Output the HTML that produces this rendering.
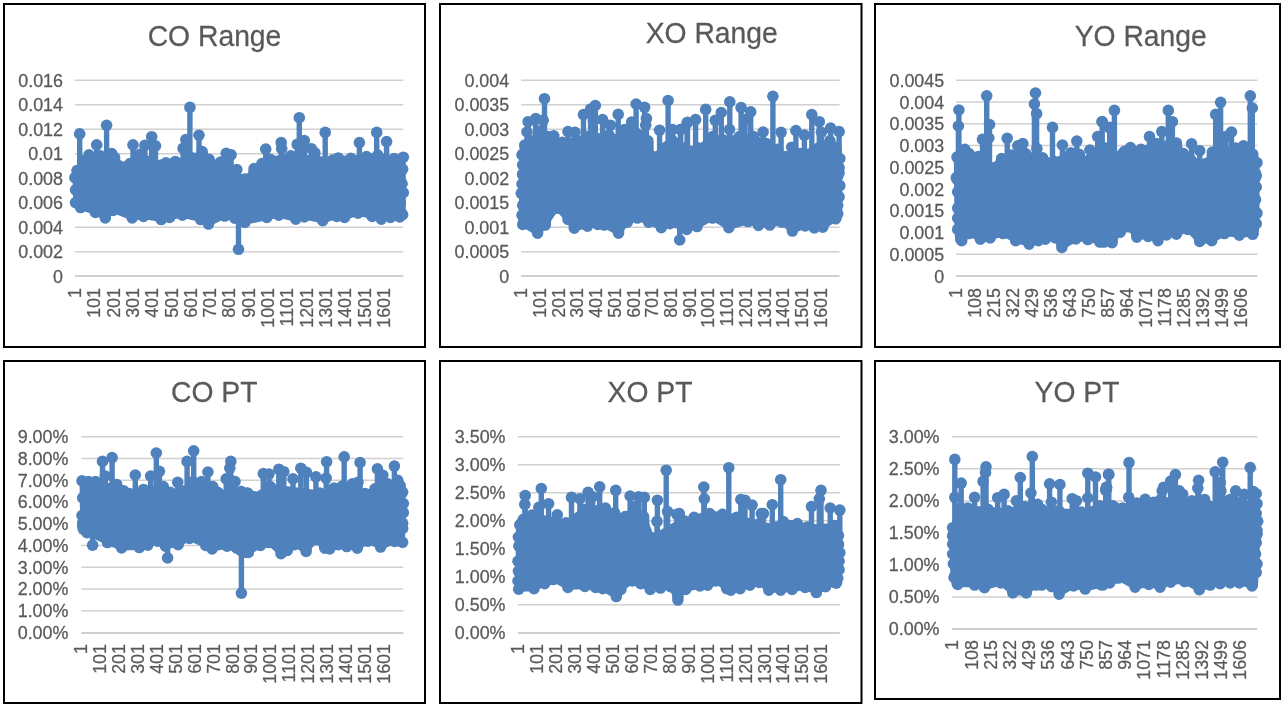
<!DOCTYPE html>
<html lang="en">
<head>
<meta charset="utf-8">
<title>Range and PT charts</title>
<style>
html,body{margin:0;padding:0;background:#fff;}
body{width:1284px;height:707px;overflow:hidden;position:relative;font-family:"Liberation Sans", sans-serif;}
.chart{position:absolute;margin:0;padding:0;overflow:hidden;background:#fff;}
.chart svg{display:block;width:100%;height:100%;}
text{font-family:"Liberation Sans", sans-serif;fill:#595959;stroke:#595959;stroke-width:0.25px;}
.t{font-size:28.3px;text-anchor:middle;}
.y{font-size:17.9px;text-anchor:end;}
.x{font-size:17.9px;text-anchor:end;}
.g{stroke:#d0d0d0;stroke-width:1.5;fill:none;}
.a{stroke:#d0d0d0;stroke-width:2;fill:none;}
.f{fill:#fff;stroke:#000;stroke-width:2;}
.d{fill:#4f81bd;stroke:#4f81bd;stroke-width:5;stroke-linejoin:round;stroke-linecap:round;}
.m{fill:#4f81bd;stroke:none;}
.s{fill:none;stroke:#4f81bd;stroke-width:5.4;stroke-linecap:round;}
.p{fill:none;stroke:#4f81bd;stroke-width:11.5;stroke-linecap:round;}
</style>
</head>
<body>
<main>
<figure class="chart" id="c1" style="left:3px;top:3px;width:423px;height:345px">
<svg viewBox="3 3 423 345" role="img" aria-label="CO Range">
<rect class="f" x="4" y="4" width="421" height="343"/>
<text class="t" transform="translate(214.5 46) scale(1 1.05)">CO Range</text>
<path class="a" d="M75 276.10H403.3"/><text class="y" transform="translate(63 282.7) scale(1 1.025)">0</text>
<path class="g" d="M75 251.63H403.3"/><text class="y" transform="translate(63 258.2) scale(1 1.025)">0.002</text>
<path class="g" d="M75 227.15H403.3"/><text class="y" transform="translate(63 233.8) scale(1 1.025)">0.004</text>
<path class="g" d="M75 202.68H403.3"/><text class="y" transform="translate(63 209.3) scale(1 1.025)">0.006</text>
<path class="g" d="M75 178.20H403.3"/><text class="y" transform="translate(63 184.8) scale(1 1.025)">0.008</text>
<path class="g" d="M75 153.73H403.3"/><text class="y" transform="translate(63 160.3) scale(1 1.025)">0.01</text>
<path class="g" d="M75 129.25H403.3"/><text class="y" transform="translate(63 135.8) scale(1 1.025)">0.012</text>
<path class="g" d="M75 104.78H403.3"/><text class="y" transform="translate(63 111.4) scale(1 1.025)">0.014</text>
<path class="g" d="M75 80.30H403.3"/><text class="y" transform="translate(63 86.9) scale(1 1.025)">0.016</text>
<text class="x" transform="translate(81 288) rotate(-90) scale(1 1.025)">1</text>
<text class="x" transform="translate(100 288) rotate(-90) scale(1 1.025)">101</text>
<text class="x" transform="translate(120 288) rotate(-90) scale(1 1.025)">201</text>
<text class="x" transform="translate(139 288) rotate(-90) scale(1 1.025)">301</text>
<text class="x" transform="translate(158 288) rotate(-90) scale(1 1.025)">401</text>
<text class="x" transform="translate(178 288) rotate(-90) scale(1 1.025)">501</text>
<text class="x" transform="translate(197 288) rotate(-90) scale(1 1.025)">601</text>
<text class="x" transform="translate(216 288) rotate(-90) scale(1 1.025)">701</text>
<text class="x" transform="translate(235 288) rotate(-90) scale(1 1.025)">801</text>
<text class="x" transform="translate(255 288) rotate(-90) scale(1 1.025)">901</text>
<text class="x" transform="translate(274 288) rotate(-90) scale(1 1.025)">1001</text>
<text class="x" transform="translate(293 288) rotate(-90) scale(1 1.025)">1101</text>
<text class="x" transform="translate(313 288) rotate(-90) scale(1 1.025)">1201</text>
<text class="x" transform="translate(332 288) rotate(-90) scale(1 1.025)">1301</text>
<text class="x" transform="translate(351 288) rotate(-90) scale(1 1.025)">1401</text>
<text class="x" transform="translate(371 288) rotate(-90) scale(1 1.025)">1501</text>
<text class="x" transform="translate(390 288) rotate(-90) scale(1 1.025)">1601</text>
<polygon class="d" points="74.9,170.6 77,170.6 82.7,160.7 89,154.8 100.3,155.8 111.7,153.6 114.5,153.6 118.7,165.6 124.4,167.1 130,163.5 139.9,154.3 161.2,164.9 166.1,162.8 175.3,161.4 193,157.9 202.2,151.5 209.2,159.3 213.5,164.9 220.5,162.1 244.6,179.1 246.3,179.1 254.1,168.5 261.9,163.5 270.3,159.3 290.9,155.8 332.6,160 338.2,157.9 350.9,158.2 366.5,156.5 377.8,155 394.1,158.6 401.8,157.2 402.6,157.2 403.3,157.2 403.3,217 402.6,217 401.8,217 400.4,217 399.7,217 390.5,217.5 381.3,219.3 372.2,216.5 358,213.2 344.6,217.5 336.8,216.5 322.7,220.7 304.3,217 295.8,219.3 278.8,215.3 266.8,217.5 244.9,222.4 234.7,218.2 224.8,216.1 208.5,224.1 200.7,219.6 182.4,215.3 169.6,217.5 161.2,219.6 143.5,216.5 132.2,217.9 113.1,210.4 105.3,217.9 95.4,212.5 80.6,207.6 75.6,202.6 75.6,202.6"/>
<path class="p" d="M82.7 160.7V190M89 154.8V190M100.3 155.8V190M111.7 153.6V190M114.5 157.2V190M118.7 165.6V190M124.4 167.1V190M130 163.5V190M139.9 154.3V190M161.2 164.9V190M166.1 162.8V190M175.3 161.4V190M193 157.9V190M202.2 151.5V190M209.2 159.3V190M213.5 164.9V190M220.5 162.1V190M244.6 179.1V190M246.3 179.1V190M254.1 168.5V190M261.9 163.5V190M270.3 159.3V190M290.9 155.8V190M332.6 160V190M338.2 157.9V190M350.9 158.2V190M366.5 156.5V190M377.8 155V190M394.1 158.6V190M80.6 207.6V190M95.4 212.5V190M105.3 217.9V190M113.1 210.4V190M132.2 217.9V190M143.5 216.5V190M161.2 219.6V190M169.6 217.5V190M182.4 215.3V190M200.7 219.6V190M208.5 224.1V190M224.8 216.1V190M234.7 218.2V190M244.9 222.4V190M266.8 217.5V190M278.8 215.3V190M295.8 219.3V190M304.3 217V190M322.7 220.7V190M336.8 216.5V190M344.6 217.5V190M358 213.2V190M372.2 216.5V190M381.3 219.3V190M390.5 217.5V190"/>
<circle class="m" cx="74.9" cy="177.7" r="5.8"/><circle class="m" cx="77" cy="170.6" r="5.8"/><circle class="m" cx="401.8" cy="183.3" r="5.8"/><circle class="m" cx="402.6" cy="169.2" r="5.8"/><circle class="m" cx="403.3" cy="157.2" r="5.8"/><circle class="m" cx="75.6" cy="189.9" r="5.8"/><circle class="m" cx="75.6" cy="202.6" r="5.8"/><circle class="m" cx="399.7" cy="217" r="5.8"/><circle class="m" cx="400.4" cy="202.6" r="5.8"/><circle class="m" cx="401.8" cy="184.2" r="5.8"/><circle class="m" cx="402.6" cy="214.6" r="5.8"/><circle class="m" cx="403.3" cy="192.7" r="5.8"/>
<path class="s" d="M79.7 133.8V190M96.7 144.9V190M106.6 125.3V190M133 144.9V190M144.9 145.4V190M151.7 136.7V190M155.5 145.9V190M183.1 148.4V190M185.9 139.5V190M189.9 107.4V190M199 135.2V190M226.2 153.3V190M231.1 154.8V190M236.8 169.5V190M238.5 249.3V190M265.7 149.1V190M281.2 142.6V190M281.7 148.7V190M297.2 144.4V190M299.3 117.7V190M304.3 140.6V190M311.4 148.7V190M314.9 152.9V190M325.2 132.4V190M359.4 142.6V190M376.7 132.4V190M386.6 141.6V190"/>
<circle class="m" cx="79.7" cy="133.8" r="5.8"/><circle class="m" cx="96.7" cy="144.9" r="5.8"/><circle class="m" cx="106.6" cy="125.3" r="5.8"/><circle class="m" cx="133" cy="144.9" r="5.8"/><circle class="m" cx="144.9" cy="145.4" r="5.8"/><circle class="m" cx="151.7" cy="136.7" r="5.8"/><circle class="m" cx="155.5" cy="145.9" r="5.8"/><circle class="m" cx="183.1" cy="148.4" r="5.8"/><circle class="m" cx="185.9" cy="139.5" r="5.8"/><circle class="m" cx="189.9" cy="107.4" r="5.8"/><circle class="m" cx="199" cy="135.2" r="5.8"/><circle class="m" cx="226.2" cy="153.3" r="5.8"/><circle class="m" cx="231.1" cy="154.8" r="5.8"/><circle class="m" cx="236.8" cy="169.5" r="5.8"/><circle class="m" cx="238.5" cy="249.3" r="5.8"/><circle class="m" cx="265.7" cy="149.1" r="5.8"/><circle class="m" cx="281.2" cy="142.6" r="5.8"/><circle class="m" cx="281.7" cy="148.7" r="5.8"/><circle class="m" cx="297.2" cy="144.4" r="5.8"/><circle class="m" cx="299.3" cy="117.7" r="5.8"/><circle class="m" cx="304.3" cy="140.6" r="5.8"/><circle class="m" cx="311.4" cy="148.7" r="5.8"/><circle class="m" cx="314.9" cy="152.9" r="5.8"/><circle class="m" cx="325.2" cy="132.4" r="5.8"/><circle class="m" cx="359.4" cy="142.6" r="5.8"/><circle class="m" cx="376.7" cy="132.4" r="5.8"/><circle class="m" cx="386.6" cy="141.6" r="5.8"/>
</svg>
</figure>
<figure class="chart" id="c2" style="left:439px;top:3px;width:424px;height:345px">
<svg viewBox="439 3 424 345" role="img" aria-label="XO Range">
<rect class="f" x="440" y="4" width="421.5" height="343"/>
<text class="t" transform="translate(711.7 43) scale(1 1.05)">XO Range</text>
<path class="a" d="M521.2 276.10H839.6"/><text class="y" transform="translate(509.2 282.7) scale(1 1.025)">0</text>
<path class="g" d="M521.2 251.63H839.6"/><text class="y" transform="translate(509.2 258.2) scale(1 1.025)">0.0005</text>
<path class="g" d="M521.2 227.15H839.6"/><text class="y" transform="translate(509.2 233.8) scale(1 1.025)">0.001</text>
<path class="g" d="M521.2 202.68H839.6"/><text class="y" transform="translate(509.2 209.3) scale(1 1.025)">0.0015</text>
<path class="g" d="M521.2 178.20H839.6"/><text class="y" transform="translate(509.2 184.8) scale(1 1.025)">0.002</text>
<path class="g" d="M521.2 153.73H839.6"/><text class="y" transform="translate(509.2 160.3) scale(1 1.025)">0.0025</text>
<path class="g" d="M521.2 129.25H839.6"/><text class="y" transform="translate(509.2 135.8) scale(1 1.025)">0.003</text>
<path class="g" d="M521.2 104.78H839.6"/><text class="y" transform="translate(509.2 111.4) scale(1 1.025)">0.0035</text>
<path class="g" d="M521.2 80.30H839.6"/><text class="y" transform="translate(509.2 86.9) scale(1 1.025)">0.004</text>
<text class="x" transform="translate(527 288) rotate(-90) scale(1 1.025)">1</text>
<text class="x" transform="translate(546 288) rotate(-90) scale(1 1.025)">101</text>
<text class="x" transform="translate(565 288) rotate(-90) scale(1 1.025)">201</text>
<text class="x" transform="translate(583 288) rotate(-90) scale(1 1.025)">301</text>
<text class="x" transform="translate(602 288) rotate(-90) scale(1 1.025)">401</text>
<text class="x" transform="translate(621 288) rotate(-90) scale(1 1.025)">501</text>
<text class="x" transform="translate(640 288) rotate(-90) scale(1 1.025)">601</text>
<text class="x" transform="translate(658 288) rotate(-90) scale(1 1.025)">701</text>
<text class="x" transform="translate(677 288) rotate(-90) scale(1 1.025)">801</text>
<text class="x" transform="translate(696 288) rotate(-90) scale(1 1.025)">901</text>
<text class="x" transform="translate(714 288) rotate(-90) scale(1 1.025)">1001</text>
<text class="x" transform="translate(733 288) rotate(-90) scale(1 1.025)">1101</text>
<text class="x" transform="translate(752 288) rotate(-90) scale(1 1.025)">1201</text>
<text class="x" transform="translate(771 288) rotate(-90) scale(1 1.025)">1301</text>
<text class="x" transform="translate(789 288) rotate(-90) scale(1 1.025)">1401</text>
<text class="x" transform="translate(808 288) rotate(-90) scale(1 1.025)">1501</text>
<text class="x" transform="translate(827 288) rotate(-90) scale(1 1.025)">1601</text>
<polygon class="d" points="522,145 522.7,145 522.7,145 524.8,145 540.4,130.9 548.2,136.6 562.3,142.2 586.4,136.6 609,135.1 617.5,139.4 624.5,129.5 637.3,133.7 647.9,140.8 652.8,156.4 667,146.5 672.6,140.8 683.9,147.9 698.4,147.9 712.5,136.6 722.4,139.4 739.4,136.6 753.5,136.6 766.3,143.6 777.6,149.3 786,156.4 800.2,153.5 818.6,147.9 829.9,140.8 835.5,147.9 837.7,147.9 839.1,147.9 839.8,158.5 839.8,213.8 839.1,218.8 839.1,218.8 837.7,218.8 837.7,218.8 835.5,218.8 822.8,227.3 814.3,228 805.1,225.9 792.4,231.1 781.8,222.3 769.8,225.1 758.5,225.4 747.9,221.6 728.8,227.7 712.5,218.1 697,226.6 686.7,229.4 686.4,229.4 669.8,223.7 661.3,227.7 648.6,222.3 637.3,218.1 627.4,222.3 618.5,233.2 604,225.1 597.7,224.4 587.5,226.3 574.3,228.3 568,219.5 556.7,208.2 545.3,225.1 537.6,233.3 522.7,224.4 522.7,224.4 522.7,224.4 522,224.4 522,224.4 521.3,224.4"/>
<path class="p" d="M540.4 130.9V180M548.2 136.6V180M562.3 142.2V180M586.4 136.6V180M609 135.1V180M617.5 139.4V180M624.5 129.5V180M637.3 133.7V180M647.9 140.8V180M652.8 156.4V180M667 146.5V180M672.6 140.8V180M683.9 147.9V180M698.4 147.9V180M712.5 136.6V180M722.4 139.4V180M739.4 136.6V180M753.5 136.6V180M766.3 143.6V180M777.6 149.3V180M786 156.4V180M800.2 153.5V180M818.6 147.9V180M829.9 140.8V180M537.6 233.3V180M545.3 225.1V180M556.7 208.2V180M568 219.5V180M574.3 228.3V180M587.5 226.3V180M597.7 224.4V180M604 225.1V180M618.5 233.2V180M627.4 222.3V180M637.3 218.1V180M648.6 222.3V180M661.3 227.7V180M669.8 223.7V180M686.4 228.7V180M686.7 229.4V180M697 226.6V180M712.5 218.1V180M728.8 227.7V180M747.9 221.6V180M758.5 225.4V180M769.8 225.1V180M781.8 222.3V180M792.4 231.1V180M805.1 225.9V180M814.3 228V180M822.8 227.3V180"/>
<circle class="m" cx="522" cy="154.9" r="5.8"/><circle class="m" cx="522.7" cy="164.8" r="5.8"/><circle class="m" cx="522.7" cy="174.7" r="5.8"/><circle class="m" cx="524.8" cy="145" r="5.8"/><circle class="m" cx="835.5" cy="147.9" r="5.8"/><circle class="m" cx="837.7" cy="176.2" r="5.8"/><circle class="m" cx="839.1" cy="167.7" r="5.8"/><circle class="m" cx="839.8" cy="158.5" r="5.8"/><circle class="m" cx="521.3" cy="193.3" r="5.8"/><circle class="m" cx="522" cy="184.1" r="5.8"/><circle class="m" cx="522" cy="215.2" r="5.8"/><circle class="m" cx="522.7" cy="174.2" r="5.8"/><circle class="m" cx="522.7" cy="205.3" r="5.8"/><circle class="m" cx="522.7" cy="224.4" r="5.8"/><circle class="m" cx="835.5" cy="218.8" r="5.8"/><circle class="m" cx="837.7" cy="205.3" r="5.8"/><circle class="m" cx="837.7" cy="213.8" r="5.8"/><circle class="m" cx="839.1" cy="172.8" r="5.8"/><circle class="m" cx="839.1" cy="196.9" r="5.8"/><circle class="m" cx="839.8" cy="185.6" r="5.8"/>
<path class="s" d="M527 132V180M528.1 121.7V180M535.7 118.5V180M543.2 120.3V180M544.5 98.7V180M553.8 135.9V180M568 131.6V180M575 132.3V180M583.5 114.6V180M590.6 109V180M593.4 121V180M595.3 105.5V180M602.6 119.6V180M610.4 125.2V180M618.2 114.4V180M631.6 122.1V180M636.1 104V180M644.6 107.3V180M645.7 125.2V180M646.4 118.5V180M659.6 130.2V180M668.1 100.5V180M672.6 129.5V180M679.7 240V180M680.4 129.5V180M680.7 129.5V180M687.1 122.8V180M687.5 122.4V180M695.6 119.6V180M705.7 109.4V180M715.3 120.3V180M721.3 112.5V180M729.5 129.5V180M729.8 101.9V180M741.1 107.6V180M745 119.6V180M750.7 111.8V180M763.1 132V180M772.9 96.3V180M781.1 132.3V180M791.7 147.2V180M795.9 130.6V180M804.4 135.1V180M811.8 114.6V180M819.3 121.7V180M821.4 132.3V180M830.6 128.1V180M839.1 131.6V180"/>
<circle class="m" cx="527" cy="132" r="5.8"/><circle class="m" cx="528.1" cy="121.7" r="5.8"/><circle class="m" cx="535.7" cy="118.5" r="5.8"/><circle class="m" cx="543.2" cy="120.3" r="5.8"/><circle class="m" cx="544.5" cy="98.7" r="5.8"/><circle class="m" cx="553.8" cy="135.9" r="5.8"/><circle class="m" cx="568" cy="131.6" r="5.8"/><circle class="m" cx="575" cy="132.3" r="5.8"/><circle class="m" cx="583.5" cy="114.6" r="5.8"/><circle class="m" cx="590.6" cy="109" r="5.8"/><circle class="m" cx="593.4" cy="121" r="5.8"/><circle class="m" cx="595.3" cy="105.5" r="5.8"/><circle class="m" cx="602.6" cy="119.6" r="5.8"/><circle class="m" cx="610.4" cy="125.2" r="5.8"/><circle class="m" cx="618.2" cy="114.4" r="5.8"/><circle class="m" cx="631.6" cy="122.1" r="5.8"/><circle class="m" cx="636.1" cy="104" r="5.8"/><circle class="m" cx="644.6" cy="107.3" r="5.8"/><circle class="m" cx="645.7" cy="125.2" r="5.8"/><circle class="m" cx="646.4" cy="118.5" r="5.8"/><circle class="m" cx="659.6" cy="130.2" r="5.8"/><circle class="m" cx="668.1" cy="100.5" r="5.8"/><circle class="m" cx="672.6" cy="129.5" r="5.8"/><circle class="m" cx="679.7" cy="240" r="5.8"/><circle class="m" cx="680.4" cy="129.5" r="5.8"/><circle class="m" cx="680.7" cy="129.5" r="5.8"/><circle class="m" cx="687.1" cy="122.8" r="5.8"/><circle class="m" cx="687.5" cy="122.4" r="5.8"/><circle class="m" cx="695.6" cy="119.6" r="5.8"/><circle class="m" cx="705.7" cy="109.4" r="5.8"/><circle class="m" cx="715.3" cy="120.3" r="5.8"/><circle class="m" cx="721.3" cy="112.5" r="5.8"/><circle class="m" cx="729.5" cy="129.5" r="5.8"/><circle class="m" cx="729.8" cy="101.9" r="5.8"/><circle class="m" cx="741.1" cy="107.6" r="5.8"/><circle class="m" cx="745" cy="119.6" r="5.8"/><circle class="m" cx="750.7" cy="111.8" r="5.8"/><circle class="m" cx="763.1" cy="132" r="5.8"/><circle class="m" cx="772.9" cy="96.3" r="5.8"/><circle class="m" cx="781.1" cy="132.3" r="5.8"/><circle class="m" cx="791.7" cy="147.2" r="5.8"/><circle class="m" cx="795.9" cy="130.6" r="5.8"/><circle class="m" cx="804.4" cy="135.1" r="5.8"/><circle class="m" cx="811.8" cy="114.6" r="5.8"/><circle class="m" cx="819.3" cy="121.7" r="5.8"/><circle class="m" cx="821.4" cy="132.3" r="5.8"/><circle class="m" cx="830.6" cy="128.1" r="5.8"/><circle class="m" cx="839.1" cy="131.6" r="5.8"/>
</svg>
</figure>
<figure class="chart" id="c3" style="left:874px;top:3px;width:407px;height:345px">
<svg viewBox="874 3 407 345" role="img" aria-label="YO Range">
<rect class="f" x="875" y="4" width="405" height="343"/>
<text class="t" transform="translate(1140.7 46) scale(1 1.05)">YO Range</text>
<path class="a" d="M956 276.10H1257.4"/><text class="y" transform="translate(944.2 282.7) scale(1 1.025)">0</text>
<path class="g" d="M956 254.34H1257.4"/><text class="y" transform="translate(944.2 260.9) scale(1 1.025)">0.0005</text>
<path class="g" d="M956 232.59H1257.4"/><text class="y" transform="translate(944.2 239.2) scale(1 1.025)">0.001</text>
<path class="g" d="M956 210.83H1257.4"/><text class="y" transform="translate(944.2 217.4) scale(1 1.025)">0.0015</text>
<path class="g" d="M956 189.08H1257.4"/><text class="y" transform="translate(944.2 195.7) scale(1 1.025)">0.002</text>
<path class="g" d="M956 167.32H1257.4"/><text class="y" transform="translate(944.2 173.9) scale(1 1.025)">0.0025</text>
<path class="g" d="M956 145.57H1257.4"/><text class="y" transform="translate(944.2 152.2) scale(1 1.025)">0.003</text>
<path class="g" d="M956 123.81H1257.4"/><text class="y" transform="translate(944.2 130.4) scale(1 1.025)">0.0035</text>
<path class="g" d="M956 102.06H1257.4"/><text class="y" transform="translate(944.2 108.7) scale(1 1.025)">0.004</text>
<path class="g" d="M956 80.30H1257.4"/><text class="y" transform="translate(944.2 86.9) scale(1 1.025)">0.0045</text>
<text class="x" transform="translate(962 288) rotate(-90) scale(1 1.025)">1</text>
<text class="x" transform="translate(981 288) rotate(-90) scale(1 1.025)">108</text>
<text class="x" transform="translate(1000 288) rotate(-90) scale(1 1.025)">215</text>
<text class="x" transform="translate(1019 288) rotate(-90) scale(1 1.025)">322</text>
<text class="x" transform="translate(1038 288) rotate(-90) scale(1 1.025)">429</text>
<text class="x" transform="translate(1057 288) rotate(-90) scale(1 1.025)">536</text>
<text class="x" transform="translate(1076 288) rotate(-90) scale(1 1.025)">643</text>
<text class="x" transform="translate(1095 288) rotate(-90) scale(1 1.025)">750</text>
<text class="x" transform="translate(1114 288) rotate(-90) scale(1 1.025)">857</text>
<text class="x" transform="translate(1133 288) rotate(-90) scale(1 1.025)">964</text>
<text class="x" transform="translate(1152 288) rotate(-90) scale(1 1.025)">1071</text>
<text class="x" transform="translate(1171 288) rotate(-90) scale(1 1.025)">1178</text>
<text class="x" transform="translate(1190 288) rotate(-90) scale(1 1.025)">1285</text>
<text class="x" transform="translate(1209 288) rotate(-90) scale(1 1.025)">1392</text>
<text class="x" transform="translate(1228 288) rotate(-90) scale(1 1.025)">1499</text>
<text class="x" transform="translate(1247 288) rotate(-90) scale(1 1.025)">1606</text>
<polygon class="d" points="956.3,157.1 957,157.1 964.8,149.3 969,153.5 978.2,156.4 991.7,167.7 1001.6,158.5 1011.5,154.9 1025.6,153.5 1042.6,157.8 1053.9,161.3 1070.8,152.8 1079.3,154.2 1084.3,167.7 1089.2,159.9 1104.8,147.9 1105.7,147.9 1118.4,159.2 1118.9,153.5 1122.6,153.5 1141,149.3 1156.6,143.6 1176.4,142.9 1183.4,153.5 1190.5,159.2 1206,163.4 1212.4,152.1 1235.7,147.9 1252.7,154.2 1254.8,154.2 1255.5,154.2 1257,162.7 1257,223.7 1256.2,234.3 1256.2,234.3 1256.2,234.3 1255.5,234.3 1252.7,234.3 1239.3,235.3 1224.4,233.6 1211.7,240.7 1199.7,241.4 1187.7,229.4 1176.4,234.3 1166.5,235 1158,240.7 1148.1,236.5 1136.8,237.2 1128.3,226.6 1120.3,232.2 1119.8,232.2 1112.1,242.8 1112,242.8 1104.2,242.1 1099.8,242.1 1087.8,239.6 1075.8,239 1061.9,247.5 1055.3,237.9 1045.4,239.3 1038.3,240.7 1029.1,244.2 1015.7,240.7 1003,233.6 990.2,237.9 980.3,239.3 969,233.6 961.7,240.7 957.7,240.7 957.7,240.7 957.7,240.7 957.7,240.7 957,229.4"/>
<path class="p" d="M964.8 149.3V190M969 153.5V190M978.2 156.4V190M991.7 167.7V190M1001.6 158.5V190M1011.5 154.9V190M1025.6 153.5V190M1042.6 157.8V190M1053.9 161.3V190M1070.8 152.8V190M1079.3 154.2V190M1084.3 167.7V190M1089.2 159.9V190M1104.8 147.9V190M1105.7 147.9V190M1118.4 160.6V190M1118.9 159.2V190M1122.6 153.5V190M1141 149.3V190M1156.6 143.6V190M1176.4 142.9V190M1183.4 153.5V190M1190.5 159.2V190M1206 163.4V190M1212.4 152.1V190M1235.7 147.9V190M961.7 240.7V190M969 233.6V190M980.3 239.3V190M990.2 237.9V190M1003 233.6V190M1015.7 240.7V190M1029.1 244.2V190M1038.3 240.7V190M1045.4 239.3V190M1055.3 237.9V190M1061.9 247.5V190M1075.8 239V190M1087.8 239.6V190M1099.8 242.1V190M1104.2 242.1V190M1112 242.8V190M1112.1 242.8V190M1119.8 232.2V190M1120.3 232.2V190M1128.3 226.6V190M1136.8 237.2V190M1148.1 236.5V190M1158 240.7V190M1166.5 235V190M1176.4 234.3V190M1187.7 229.4V190M1199.7 241.4V190M1211.7 240.7V190M1224.4 233.6V190M1239.3 235.3V190"/>
<circle class="m" cx="956.3" cy="177.6" r="5.8"/><circle class="m" cx="957" cy="157.1" r="5.8"/><circle class="m" cx="1252.7" cy="154.2" r="5.8"/><circle class="m" cx="1254.8" cy="179" r="5.8"/><circle class="m" cx="1255.5" cy="173.3" r="5.8"/><circle class="m" cx="1257" cy="162.7" r="5.8"/><circle class="m" cx="957" cy="179.2" r="5.8"/><circle class="m" cx="957.7" cy="191.9" r="5.8"/><circle class="m" cx="957.7" cy="208.2" r="5.8"/><circle class="m" cx="957.7" cy="218.1" r="5.8"/><circle class="m" cx="957.7" cy="229.4" r="5.8"/><circle class="m" cx="1252.7" cy="234.3" r="5.8"/><circle class="m" cx="1255.5" cy="199.7" r="5.8"/><circle class="m" cx="1256.2" cy="175.7" r="5.8"/><circle class="m" cx="1256.2" cy="187" r="5.8"/><circle class="m" cx="1256.2" cy="223.7" r="5.8"/><circle class="m" cx="1257" cy="213.1" r="5.8"/>
<path class="s" d="M958.4 126V190M958.9 110V190M982.5 139.4V190M986.7 95.8V190M988.8 138V190M989.5 124.5V190M1007.2 138.3V190M1017.8 145.8V190M1022.8 143.6V190M1034.4 104V190M1035.5 93V190M1036.6 113.7V190M1036.9 148.6V190M1052.5 127.4V190M1062.4 145V190M1076.8 141.1V190M1089.9 150V190M1097.7 136.6V190M1102.1 121.7V190M1102.2 121.7V190M1109.7 127.4V190M1109.9 128.1V190M1114.4 110.4V190M1124.6 151.4V190M1130.4 147.6V190M1149.5 136.6V190M1161.8 131.6V190M1168.3 110.4V190M1172.4 121.7V190M1191.6 143.9V190M1199.7 150.7V190M1215.7 114.4V190M1220.6 102.3V190M1225.8 136.6V190M1231.5 132V190M1243.5 145.8V190M1250.3 95.8V190M1252.3 108V190"/>
<circle class="m" cx="958.4" cy="126" r="5.8"/><circle class="m" cx="958.9" cy="110" r="5.8"/><circle class="m" cx="982.5" cy="139.4" r="5.8"/><circle class="m" cx="986.7" cy="95.8" r="5.8"/><circle class="m" cx="988.8" cy="138" r="5.8"/><circle class="m" cx="989.5" cy="124.5" r="5.8"/><circle class="m" cx="1007.2" cy="138.3" r="5.8"/><circle class="m" cx="1017.8" cy="145.8" r="5.8"/><circle class="m" cx="1022.8" cy="143.6" r="5.8"/><circle class="m" cx="1034.4" cy="104" r="5.8"/><circle class="m" cx="1035.5" cy="93" r="5.8"/><circle class="m" cx="1036.6" cy="113.7" r="5.8"/><circle class="m" cx="1036.9" cy="148.6" r="5.8"/><circle class="m" cx="1052.5" cy="127.4" r="5.8"/><circle class="m" cx="1062.4" cy="145" r="5.8"/><circle class="m" cx="1076.8" cy="141.1" r="5.8"/><circle class="m" cx="1089.9" cy="150" r="5.8"/><circle class="m" cx="1097.7" cy="136.6" r="5.8"/><circle class="m" cx="1102.1" cy="121.7" r="5.8"/><circle class="m" cx="1102.2" cy="121.7" r="5.8"/><circle class="m" cx="1109.7" cy="127.4" r="5.8"/><circle class="m" cx="1109.9" cy="128.1" r="5.8"/><circle class="m" cx="1114.4" cy="110.4" r="5.8"/><circle class="m" cx="1124.6" cy="151.4" r="5.8"/><circle class="m" cx="1130.4" cy="147.6" r="5.8"/><circle class="m" cx="1149.5" cy="136.6" r="5.8"/><circle class="m" cx="1161.8" cy="131.6" r="5.8"/><circle class="m" cx="1168.3" cy="110.4" r="5.8"/><circle class="m" cx="1172.4" cy="121.7" r="5.8"/><circle class="m" cx="1191.6" cy="143.9" r="5.8"/><circle class="m" cx="1199.7" cy="150.7" r="5.8"/><circle class="m" cx="1215.7" cy="114.4" r="5.8"/><circle class="m" cx="1220.6" cy="102.3" r="5.8"/><circle class="m" cx="1225.8" cy="136.6" r="5.8"/><circle class="m" cx="1231.5" cy="132" r="5.8"/><circle class="m" cx="1243.5" cy="145.8" r="5.8"/><circle class="m" cx="1250.3" cy="95.8" r="5.8"/><circle class="m" cx="1252.3" cy="108" r="5.8"/>
</svg>
</figure>
<figure class="chart" id="c4" style="left:3px;top:360px;width:423px;height:344px">
<svg viewBox="3 360 423 344" role="img" aria-label="CO PT">
<rect class="f" x="4" y="361" width="421" height="342"/>
<text class="t" transform="translate(214.2 401.7) scale(1 1.05)">CO PT</text>
<path class="a" d="M81.3 632.90H403.3"/><text class="y" transform="translate(68.4 638.8) scale(1 1.025)">0.00%</text>
<path class="g" d="M81.3 610.84H403.3"/><text class="y" transform="translate(68.4 617.0) scale(1 1.025)">1.00%</text>
<path class="g" d="M81.3 589.09H403.3"/><text class="y" transform="translate(68.4 595.3) scale(1 1.025)">2.00%</text>
<path class="g" d="M81.3 567.33H403.3"/><text class="y" transform="translate(68.4 573.5) scale(1 1.025)">3.00%</text>
<path class="g" d="M81.3 545.58H403.3"/><text class="y" transform="translate(68.4 551.8) scale(1 1.025)">4.00%</text>
<path class="g" d="M81.3 523.82H403.3"/><text class="y" transform="translate(68.4 530.0) scale(1 1.025)">5.00%</text>
<path class="g" d="M81.3 502.07H403.3"/><text class="y" transform="translate(68.4 508.3) scale(1 1.025)">6.00%</text>
<path class="g" d="M81.3 480.31H403.3"/><text class="y" transform="translate(68.4 486.5) scale(1 1.025)">7.00%</text>
<path class="g" d="M81.3 458.56H403.3"/><text class="y" transform="translate(68.4 464.8) scale(1 1.025)">8.00%</text>
<path class="g" d="M81.3 436.80H403.3"/><text class="y" transform="translate(68.4 443.0) scale(1 1.025)">9.00%</text>
<text class="x" transform="translate(87 644) rotate(-90) scale(1 1.025)">1</text>
<text class="x" transform="translate(106 644) rotate(-90) scale(1 1.025)">101</text>
<text class="x" transform="translate(125 644) rotate(-90) scale(1 1.025)">201</text>
<text class="x" transform="translate(144 644) rotate(-90) scale(1 1.025)">301</text>
<text class="x" transform="translate(163 644) rotate(-90) scale(1 1.025)">401</text>
<text class="x" transform="translate(182 644) rotate(-90) scale(1 1.025)">501</text>
<text class="x" transform="translate(201 644) rotate(-90) scale(1 1.025)">601</text>
<text class="x" transform="translate(220 644) rotate(-90) scale(1 1.025)">701</text>
<text class="x" transform="translate(239 644) rotate(-90) scale(1 1.025)">801</text>
<text class="x" transform="translate(257 644) rotate(-90) scale(1 1.025)">901</text>
<text class="x" transform="translate(276 644) rotate(-90) scale(1 1.025)">1001</text>
<text class="x" transform="translate(295 644) rotate(-90) scale(1 1.025)">1101</text>
<text class="x" transform="translate(314 644) rotate(-90) scale(1 1.025)">1201</text>
<text class="x" transform="translate(333 644) rotate(-90) scale(1 1.025)">1301</text>
<text class="x" transform="translate(352 644) rotate(-90) scale(1 1.025)">1401</text>
<text class="x" transform="translate(371 644) rotate(-90) scale(1 1.025)">1501</text>
<text class="x" transform="translate(390 644) rotate(-90) scale(1 1.025)">1601</text>
<polygon class="d" points="82,480.9 82,480.9 82.7,480.9 82.7,480.9 88.4,481.6 95.5,481.6 100.4,486.6 116.7,484.4 123.7,490.8 129.4,493.6 143.5,489.4 163.3,486.6 170.4,492.2 184.5,490.8 193,481.6 201.5,481.6 212.8,486.6 217.8,492.2 241.1,491.5 241.4,491.5 247,492.9 247.5,492.9 250.6,492.9 261.9,495 270.3,486.6 319.8,492.9 334,488 342.5,485.9 352.4,483.7 365.1,493.6 375,488.7 387.7,483.7 399.7,485.1 402.6,485.1 402.6,485.1 403.3,485.1 403.3,485.1 402.6,542.3 402.6,542.3 401.8,542.3 397.6,541.5 394.8,541.5 380.6,547.1 367.9,541.2 357.3,548.3 346.7,546.6 338.2,544.7 329.7,549 324.8,548.3 315.6,539.8 306.1,551.4 294.4,544.7 287.3,550.4 281,553.7 268.9,542.6 260.5,545.5 248.4,552.5 246,552.5 240.7,550.4 236.8,550.4 227,546.2 212.1,549 205.7,545.5 189.5,538.4 178.2,544.7 165.4,546.2 157.7,541.2 147.8,545.2 139.3,547.6 121.6,548 107.5,542.6 87,532.7 83.4,532.7 82.7,529.2"/>
<path class="p" d="M88.4 481.6V520M95.5 481.6V520M100.4 486.6V520M116.7 484.4V520M123.7 490.8V520M129.4 493.6V520M143.5 489.4V520M163.3 486.6V520M170.4 492.2V520M184.5 490.8V520M193 481.6V520M201.5 481.6V520M212.8 486.6V520M217.8 492.2V520M241.1 491.5V520M241.4 491.5V520M247 492.9V520M247.5 492.9V520M250.6 497.2V520M261.9 495V520M270.3 486.6V520M319.8 492.9V520M334 488V520M342.5 485.9V520M352.4 483.7V520M365.1 493.6V520M375 488.7V520M387.7 483.7V520M107.5 542.6V520M121.6 548V520M139.3 547.6V520M147.8 545.2V520M157.7 541.2V520M165.4 546.2V520M178.2 544.7V520M189.5 538.4V520M205.7 545.5V520M212.1 549V520M227 546.2V520M236.8 548.3V520M240.7 550.4V520M246 552.5V520M248.4 552.5V520M260.5 545.5V520M268.9 542.6V520M281 553.7V520M287.3 550.4V520M294.4 544.7V520M306.1 551.4V520M315.6 539.8V520M324.8 548.3V520M329.7 549V520M338.2 544.7V520M346.7 546.6V520M357.3 548.3V520M367.9 541.2V520M380.6 547.1V520M394.8 541.5V520M397.6 534.1V520"/>
<circle class="m" cx="82" cy="480.9" r="5.8"/><circle class="m" cx="82" cy="515.5" r="5.8"/><circle class="m" cx="82.7" cy="497.9" r="5.8"/><circle class="m" cx="82.7" cy="526.2" r="5.8"/><circle class="m" cx="399.7" cy="485.1" r="5.8"/><circle class="m" cx="402.6" cy="492.2" r="5.8"/><circle class="m" cx="402.6" cy="523.3" r="5.8"/><circle class="m" cx="403.3" cy="503.5" r="5.8"/><circle class="m" cx="403.3" cy="512.7" r="5.8"/><circle class="m" cx="82.7" cy="522.8" r="5.8"/><circle class="m" cx="83.4" cy="529.2" r="5.8"/><circle class="m" cx="87" cy="532.7" r="5.8"/><circle class="m" cx="401.8" cy="522.8" r="5.8"/><circle class="m" cx="402.6" cy="528.5" r="5.8"/><circle class="m" cx="402.6" cy="542.3" r="5.8"/>
<path class="s" d="M92.6 545.2V520M102.5 461.4V520M105.3 476V520M112.1 457.6V520M135.3 475V520M150.6 476V520M156.3 453V520M159.4 471.3V520M167.6 557.9V520M177.7 482.3V520M187.1 461.4V520M193.7 450.8V520M207.9 472V520M226.2 478.8V520M229.8 468.2V520M230.8 461.4V520M234 481.6V520M235 481.6V520M241.4 593.1V520M263.3 473.6V520M268.9 474.1V520M278.8 469.2V520M283.8 471.7V520M293 478.8V520M300.8 468.2V520M306.4 472.4V520M315.9 476.9V520M326.2 478.1V520M326.6 461.8V520M344.2 456.9V520M358 482.3V520M360.1 462.5V520M377.4 468.9V520M382.8 475.2V520M394.4 466.1V520M397.6 480.2V520"/>
<circle class="m" cx="92.6" cy="545.2" r="5.8"/><circle class="m" cx="102.5" cy="461.4" r="5.8"/><circle class="m" cx="105.3" cy="476" r="5.8"/><circle class="m" cx="112.1" cy="457.6" r="5.8"/><circle class="m" cx="135.3" cy="475" r="5.8"/><circle class="m" cx="150.6" cy="476" r="5.8"/><circle class="m" cx="156.3" cy="453" r="5.8"/><circle class="m" cx="159.4" cy="471.3" r="5.8"/><circle class="m" cx="167.6" cy="557.9" r="5.8"/><circle class="m" cx="177.7" cy="482.3" r="5.8"/><circle class="m" cx="187.1" cy="461.4" r="5.8"/><circle class="m" cx="193.7" cy="450.8" r="5.8"/><circle class="m" cx="207.9" cy="472" r="5.8"/><circle class="m" cx="226.2" cy="478.8" r="5.8"/><circle class="m" cx="229.8" cy="468.2" r="5.8"/><circle class="m" cx="230.8" cy="461.4" r="5.8"/><circle class="m" cx="234" cy="481.6" r="5.8"/><circle class="m" cx="235" cy="481.6" r="5.8"/><circle class="m" cx="241.4" cy="593.1" r="5.8"/><circle class="m" cx="263.3" cy="473.6" r="5.8"/><circle class="m" cx="268.9" cy="474.1" r="5.8"/><circle class="m" cx="278.8" cy="469.2" r="5.8"/><circle class="m" cx="283.8" cy="471.7" r="5.8"/><circle class="m" cx="293" cy="478.8" r="5.8"/><circle class="m" cx="300.8" cy="468.2" r="5.8"/><circle class="m" cx="306.4" cy="472.4" r="5.8"/><circle class="m" cx="315.9" cy="476.9" r="5.8"/><circle class="m" cx="326.2" cy="478.1" r="5.8"/><circle class="m" cx="326.6" cy="461.8" r="5.8"/><circle class="m" cx="344.2" cy="456.9" r="5.8"/><circle class="m" cx="358" cy="482.3" r="5.8"/><circle class="m" cx="360.1" cy="462.5" r="5.8"/><circle class="m" cx="377.4" cy="468.9" r="5.8"/><circle class="m" cx="382.8" cy="475.2" r="5.8"/><circle class="m" cx="394.4" cy="466.1" r="5.8"/><circle class="m" cx="397.6" cy="480.2" r="5.8"/>
</svg>
</figure>
<figure class="chart" id="c5" style="left:439px;top:360px;width:424px;height:344px">
<svg viewBox="439 360 424 344" role="img" aria-label="XO PT">
<rect class="f" x="440" y="361" width="421.5" height="342"/>
<text class="t" transform="translate(650 401.7) scale(1 1.05)">XO PT</text>
<path class="a" d="M517.8 632.90H839.8"/><text class="y" transform="translate(505.5 638.8) scale(1 1.025)">0.00%</text>
<path class="g" d="M517.8 604.63H839.8"/><text class="y" transform="translate(505.5 610.8) scale(1 1.025)">0.50%</text>
<path class="g" d="M517.8 576.66H839.8"/><text class="y" transform="translate(505.5 582.9) scale(1 1.025)">1.00%</text>
<path class="g" d="M517.8 548.69H839.8"/><text class="y" transform="translate(505.5 554.9) scale(1 1.025)">1.50%</text>
<path class="g" d="M517.8 520.71H839.8"/><text class="y" transform="translate(505.5 526.9) scale(1 1.025)">2.00%</text>
<path class="g" d="M517.8 492.74H839.8"/><text class="y" transform="translate(505.5 498.9) scale(1 1.025)">2.50%</text>
<path class="g" d="M517.8 464.77H839.8"/><text class="y" transform="translate(505.5 471.0) scale(1 1.025)">3.00%</text>
<path class="g" d="M517.8 436.80H839.8"/><text class="y" transform="translate(505.5 443.0) scale(1 1.025)">3.50%</text>
<text class="x" transform="translate(524 644) rotate(-90) scale(1 1.025)">1</text>
<text class="x" transform="translate(543 644) rotate(-90) scale(1 1.025)">101</text>
<text class="x" transform="translate(562 644) rotate(-90) scale(1 1.025)">201</text>
<text class="x" transform="translate(581 644) rotate(-90) scale(1 1.025)">301</text>
<text class="x" transform="translate(600 644) rotate(-90) scale(1 1.025)">401</text>
<text class="x" transform="translate(619 644) rotate(-90) scale(1 1.025)">501</text>
<text class="x" transform="translate(638 644) rotate(-90) scale(1 1.025)">601</text>
<text class="x" transform="translate(657 644) rotate(-90) scale(1 1.025)">701</text>
<text class="x" transform="translate(676 644) rotate(-90) scale(1 1.025)">801</text>
<text class="x" transform="translate(695 644) rotate(-90) scale(1 1.025)">901</text>
<text class="x" transform="translate(714 644) rotate(-90) scale(1 1.025)">1001</text>
<text class="x" transform="translate(733 644) rotate(-90) scale(1 1.025)">1101</text>
<text class="x" transform="translate(752 644) rotate(-90) scale(1 1.025)">1201</text>
<text class="x" transform="translate(771 644) rotate(-90) scale(1 1.025)">1301</text>
<text class="x" transform="translate(789 644) rotate(-90) scale(1 1.025)">1401</text>
<text class="x" transform="translate(808 644) rotate(-90) scale(1 1.025)">1501</text>
<text class="x" transform="translate(827 644) rotate(-90) scale(1 1.025)">1601</text>
<polygon class="d" points="518.4,524.9 519.1,524.9 519.8,519.3 523.4,519.3 531.9,515 565.8,522.8 584.2,509.4 596.9,510.8 625.2,516.5 635.1,506.6 643.6,516.5 643.6,516.5 652.1,537.7 681.7,520.7 684.2,520.7 694.1,517.2 709.7,513.6 722.4,514.3 736.6,517.2 759.2,523.5 776.2,527.1 783.2,521.4 797.4,523.5 807.3,527.1 835.5,525.6 838.4,525.6 838.4,525.6 839.8,583.1 839.1,583.1 839.1,583.1 838.4,583.1 837.7,583.1 836.2,583.1 825.6,586.7 816.4,592.6 805.1,587.4 792.1,589.5 780.7,590.2 768.8,590.2 759.2,582.4 750,585.2 740.1,588.8 730.9,590.2 726.7,588.8 715.3,581 707.6,585.2 699.8,586 685.7,589.5 683.2,589.5 677.9,600.1 670.4,586.7 660.5,588.1 650.2,589.5 640.7,583.8 632.3,581 620.9,589.5 616.3,596.6 602.6,588.8 595.5,587.4 584.9,586.4 567.9,587.4 553.1,579.6 544.6,583.8 534,588.8 519.1,589.2 518.7,589.2 518.4,589.2 518,589.2 518,589.2"/>
<path class="p" d="M523.4 519.3V545M531.9 515V545M565.8 522.8V545M584.2 509.4V545M596.9 510.8V545M625.2 516.5V545M635.1 506.6V545M643.6 516.5V545M643.6 529.2V545M652.1 537.7V545M681.7 520.7V545M684.2 520.7V545M694.1 517.2V545M709.7 513.6V545M722.4 514.3V545M736.6 517.2V545M759.2 523.5V545M776.2 527.1V545M783.2 521.4V545M797.4 523.5V545M807.3 527.1V545M534 588.8V545M544.6 583.8V545M553.1 579.6V545M567.9 587.4V545M584.9 586.4V545M595.5 587.4V545M602.6 588.8V545M616.3 596.6V545M620.9 589.5V545M632.3 581V545M640.7 583.8V545M650.2 589.5V545M660.5 588.1V545M670.4 586.7V545M677.9 600.1V545M683.2 589.5V545M685.7 589.5V545M699.8 586V545M707.6 585.2V545M715.3 581V545M726.7 588.8V545M730.9 590.2V545M740.1 588.8V545M750 585.2V545M759.2 582.4V545M768.8 590.2V545M780.7 590.2V545M792.1 589.5V545M805.1 587.4V545M816.4 592.6V545M825.6 586.7V545"/>
<circle class="m" cx="518.4" cy="537" r="5.8"/><circle class="m" cx="519.1" cy="546.2" r="5.8"/><circle class="m" cx="519.8" cy="524.9" r="5.8"/><circle class="m" cx="835.5" cy="525.6" r="5.8"/><circle class="m" cx="838.4" cy="535.5" r="5.8"/><circle class="m" cx="838.4" cy="544.7" r="5.8"/><circle class="m" cx="518" cy="561.2" r="5.8"/><circle class="m" cx="518" cy="581" r="5.8"/><circle class="m" cx="518.4" cy="571.1" r="5.8"/><circle class="m" cx="518.7" cy="589.2" r="5.8"/><circle class="m" cx="519.1" cy="545.7" r="5.8"/><circle class="m" cx="836.2" cy="583.1" r="5.8"/><circle class="m" cx="837.7" cy="578.2" r="5.8"/><circle class="m" cx="838.4" cy="544.2" r="5.8"/><circle class="m" cx="839.1" cy="561.2" r="5.8"/><circle class="m" cx="839.1" cy="569.7" r="5.8"/><circle class="m" cx="839.8" cy="552.7" r="5.8"/>
<path class="s" d="M524.8 504.4V545M525.2 495.5V545M538.9 507.3V545M541.3 488.5V545M548.6 503.7V545M557.3 514.8V545M571.5 497.4V545M579.9 498.8V545M588.1 492.4V545M592.7 496.7V545M599.7 486.8V545M605.4 508V545M614.6 512.9V545M615.7 490.3V545M630.1 496V545M638.6 496.7V545M644.3 497.4V545M657 521.4V545M657.4 500.2V545M666.2 470.2V545M667.6 511.5V545M676.8 514.3V545M679.3 513.6V545M703.8 487V545M704.3 498.8V545M728.8 467.7V545M740.8 499.5V545M745 500.2V545M752.1 505.1V545M761.3 513.6V545M763.4 513.6V545M772.3 504.7V545M780.7 479.7V545M811.5 506.6V545M819.3 498.8V545M821 490.3V545M830.2 508V545M839.8 510.1V545"/>
<circle class="m" cx="524.8" cy="504.4" r="5.8"/><circle class="m" cx="525.2" cy="495.5" r="5.8"/><circle class="m" cx="538.9" cy="507.3" r="5.8"/><circle class="m" cx="541.3" cy="488.5" r="5.8"/><circle class="m" cx="548.6" cy="503.7" r="5.8"/><circle class="m" cx="557.3" cy="514.8" r="5.8"/><circle class="m" cx="571.5" cy="497.4" r="5.8"/><circle class="m" cx="579.9" cy="498.8" r="5.8"/><circle class="m" cx="588.1" cy="492.4" r="5.8"/><circle class="m" cx="592.7" cy="496.7" r="5.8"/><circle class="m" cx="599.7" cy="486.8" r="5.8"/><circle class="m" cx="605.4" cy="508" r="5.8"/><circle class="m" cx="614.6" cy="512.9" r="5.8"/><circle class="m" cx="615.7" cy="490.3" r="5.8"/><circle class="m" cx="630.1" cy="496" r="5.8"/><circle class="m" cx="638.6" cy="496.7" r="5.8"/><circle class="m" cx="644.3" cy="497.4" r="5.8"/><circle class="m" cx="657" cy="521.4" r="5.8"/><circle class="m" cx="657.4" cy="500.2" r="5.8"/><circle class="m" cx="666.2" cy="470.2" r="5.8"/><circle class="m" cx="667.6" cy="511.5" r="5.8"/><circle class="m" cx="676.8" cy="514.3" r="5.8"/><circle class="m" cx="679.3" cy="513.6" r="5.8"/><circle class="m" cx="703.8" cy="487" r="5.8"/><circle class="m" cx="704.3" cy="498.8" r="5.8"/><circle class="m" cx="728.8" cy="467.7" r="5.8"/><circle class="m" cx="740.8" cy="499.5" r="5.8"/><circle class="m" cx="745" cy="500.2" r="5.8"/><circle class="m" cx="752.1" cy="505.1" r="5.8"/><circle class="m" cx="761.3" cy="513.6" r="5.8"/><circle class="m" cx="763.4" cy="513.6" r="5.8"/><circle class="m" cx="772.3" cy="504.7" r="5.8"/><circle class="m" cx="780.7" cy="479.7" r="5.8"/><circle class="m" cx="811.5" cy="506.6" r="5.8"/><circle class="m" cx="819.3" cy="498.8" r="5.8"/><circle class="m" cx="821" cy="490.3" r="5.8"/><circle class="m" cx="830.2" cy="508" r="5.8"/><circle class="m" cx="839.8" cy="510.1" r="5.8"/>
</svg>
</figure>
<figure class="chart" id="c6" style="left:874px;top:360px;width:407px;height:340px">
<svg viewBox="874 360 407 340" role="img" aria-label="YO PT">
<rect class="f" x="875" y="361" width="405" height="338"/>
<text class="t" transform="translate(1077 401.7) scale(1 1.05)">YO PT</text>
<path class="a" d="M952 629.10H1257.4"/><text class="y" transform="translate(939.5 635.3) scale(1 1.025)">0.00%</text>
<path class="g" d="M952 597.05H1257.4"/><text class="y" transform="translate(939.5 603.3) scale(1 1.025)">0.50%</text>
<path class="g" d="M952 565.00H1257.4"/><text class="y" transform="translate(939.5 571.2) scale(1 1.025)">1.00%</text>
<path class="g" d="M952 532.95H1257.4"/><text class="y" transform="translate(939.5 539.2) scale(1 1.025)">1.50%</text>
<path class="g" d="M952 500.90H1257.4"/><text class="y" transform="translate(939.5 507.1) scale(1 1.025)">2.00%</text>
<path class="g" d="M952 468.85H1257.4"/><text class="y" transform="translate(939.5 475.1) scale(1 1.025)">2.50%</text>
<path class="g" d="M952 436.80H1257.4"/><text class="y" transform="translate(939.5 443.0) scale(1 1.025)">3.00%</text>
<text class="x" transform="translate(958 640) rotate(-90) scale(1 1.025)">1</text>
<text class="x" transform="translate(978 640) rotate(-90) scale(1 1.025)">108</text>
<text class="x" transform="translate(997 640) rotate(-90) scale(1 1.025)">215</text>
<text class="x" transform="translate(1016 640) rotate(-90) scale(1 1.025)">322</text>
<text class="x" transform="translate(1035 640) rotate(-90) scale(1 1.025)">429</text>
<text class="x" transform="translate(1054 640) rotate(-90) scale(1 1.025)">536</text>
<text class="x" transform="translate(1074 640) rotate(-90) scale(1 1.025)">643</text>
<text class="x" transform="translate(1093 640) rotate(-90) scale(1 1.025)">750</text>
<text class="x" transform="translate(1112 640) rotate(-90) scale(1 1.025)">857</text>
<text class="x" transform="translate(1131 640) rotate(-90) scale(1 1.025)">964</text>
<text class="x" transform="translate(1150 640) rotate(-90) scale(1 1.025)">1071</text>
<text class="x" transform="translate(1170 640) rotate(-90) scale(1 1.025)">1178</text>
<text class="x" transform="translate(1189 640) rotate(-90) scale(1 1.025)">1285</text>
<text class="x" transform="translate(1208 640) rotate(-90) scale(1 1.025)">1392</text>
<text class="x" transform="translate(1227 640) rotate(-90) scale(1 1.025)">1499</text>
<text class="x" transform="translate(1246 640) rotate(-90) scale(1 1.025)">1606</text>
<polygon class="d" points="952.7,527.7 952.7,527.7 959.8,507.9 967.6,507.9 988.1,509.3 1007.9,510.7 1024.8,506.5 1037.6,504.3 1041.8,509.3 1058.8,510.7 1081.4,512.1 1099.8,505.8 1112.7,505.8 1113.9,505.8 1118.2,513.5 1122.6,507.9 1136.8,502.9 1153.7,502.2 1160.8,499.4 1191.9,500.8 1191.9,500.8 1204.6,499.4 1210.3,506.5 1230.1,499.4 1241.4,502.2 1255.5,503.6 1256.2,503.6 1257,503.6 1257,503.6 1257.7,503.6 1257,572.4 1257,572.4 1256.2,572.4 1256.2,572.4 1255.5,585.9 1252,585.9 1239.3,583 1230.1,583 1220.2,583.7 1210.3,585.1 1199.3,589.7 1184.8,581.6 1170.7,582.3 1160.1,587.3 1148.8,584.4 1135.1,587.3 1118.4,578.1 1116.7,578.1 1109.9,583 1109.7,583 1102.8,585.1 1101.2,585.1 1085.2,589.1 1073.6,585.9 1059.1,594.3 1051.7,586.6 1041.8,585.1 1036.2,585.1 1026.3,592.9 1012.8,592.9 1000.8,583 984.5,587.7 974.6,585.1 957.7,584.4 954.1,584.4 953.4,577.4 953.4,577.4 952.7,577.4 952.7,577.4"/>
<path class="p" d="M959.8 507.9V540M967.6 507.9V540M988.1 509.3V540M1007.9 510.7V540M1024.8 506.5V540M1037.6 504.3V540M1041.8 509.3V540M1058.8 510.7V540M1081.4 512.1V540M1099.8 505.8V540M1112.7 505.8V540M1113.9 506.5V540M1118.2 513.5V540M1122.6 507.9V540M1136.8 502.9V540M1153.7 502.2V540M1160.8 499.4V540M1191.9 500.8V540M1191.9 510.7V540M1204.6 499.4V540M1210.3 506.5V540M1230.1 499.4V540M1241.4 502.2V540M974.6 585.1V540M984.5 587.7V540M1000.8 583V540M1012.8 592.9V540M1026.3 592.9V540M1036.2 585.1V540M1041.8 585.1V540M1051.7 586.6V540M1059.1 594.3V540M1073.6 585.9V540M1085.2 589.1V540M1101.2 584.9V540M1102.8 585.1V540M1109.7 583V540M1109.9 582.3V540M1116.7 578.1V540M1118.4 578.1V540M1135.1 587.3V540M1148.8 584.4V540M1160.1 587.3V540M1170.7 582.3V540M1184.8 581.6V540M1199.3 589.7V540M1210.3 585.1V540M1220.2 583.7V540M1230.1 583V540M1239.3 583V540M1252 585.9V540"/>
<circle class="m" cx="952.7" cy="527.7" r="5.8"/><circle class="m" cx="952.7" cy="536.2" r="5.8"/><circle class="m" cx="1255.5" cy="537.6" r="5.8"/><circle class="m" cx="1256.2" cy="513.5" r="5.8"/><circle class="m" cx="1257" cy="503.6" r="5.8"/><circle class="m" cx="1257" cy="530.5" r="5.8"/><circle class="m" cx="1257.7" cy="521.3" r="5.8"/><circle class="m" cx="952.7" cy="544.1" r="5.8"/><circle class="m" cx="952.7" cy="554" r="5.8"/><circle class="m" cx="953.4" cy="534.2" r="5.8"/><circle class="m" cx="953.4" cy="563.9" r="5.8"/><circle class="m" cx="954.1" cy="577.4" r="5.8"/><circle class="m" cx="957.7" cy="584.4" r="5.8"/><circle class="m" cx="1255.5" cy="554" r="5.8"/><circle class="m" cx="1256.2" cy="542.7" r="5.8"/><circle class="m" cx="1256.2" cy="572.4" r="5.8"/><circle class="m" cx="1257" cy="534.2" r="5.8"/><circle class="m" cx="1257" cy="563.9" r="5.8"/>
<path class="s" d="M954.8 459.4V540M954.8 497.3V540M961.2 483.1V540M974.6 497.3V540M983.1 481.4V540M985.5 472.5V540M986 466.9V540M997.7 497.7V540M1004.1 494.4V540M1016.4 500.8V540M1020.3 477.5V540M1030.9 493V540M1032.3 456.5V540M1049.6 483.8V540M1051.4 502.2V540M1059.9 484.5V540M1072.2 498.7V540M1076.4 500.8V540M1087.8 473.2V540M1087.8 498V540M1095.5 477V540M1105.7 490.2V540M1106.1 490.2V540M1106.4 487.4V540M1106.6 487.4V540M1108.5 474.4V540M1108.8 474.4V540M1128.7 497.3V540M1129 462.6V540M1145.2 499.4V540M1162.2 490.9V540M1163.6 487.4V540M1170.7 481V540M1175.4 474.6V540M1179.2 490.9V540M1182.7 494.4V540M1197.8 488.1V540M1198.6 480.3V540M1215.2 471.8V540M1220.2 482.4V540M1220.9 490.9V540M1222.7 462.2V540M1235.7 490.9V540M1244.2 494.4V540M1250.2 467.6V540M1253.4 491.6V540M1256.2 493.7V540"/>
<circle class="m" cx="954.8" cy="459.4" r="5.8"/><circle class="m" cx="954.8" cy="497.3" r="5.8"/><circle class="m" cx="961.2" cy="483.1" r="5.8"/><circle class="m" cx="974.6" cy="497.3" r="5.8"/><circle class="m" cx="983.1" cy="481.4" r="5.8"/><circle class="m" cx="985.5" cy="472.5" r="5.8"/><circle class="m" cx="986" cy="466.9" r="5.8"/><circle class="m" cx="997.7" cy="497.7" r="5.8"/><circle class="m" cx="1004.1" cy="494.4" r="5.8"/><circle class="m" cx="1016.4" cy="500.8" r="5.8"/><circle class="m" cx="1020.3" cy="477.5" r="5.8"/><circle class="m" cx="1030.9" cy="493" r="5.8"/><circle class="m" cx="1032.3" cy="456.5" r="5.8"/><circle class="m" cx="1049.6" cy="483.8" r="5.8"/><circle class="m" cx="1051.4" cy="502.2" r="5.8"/><circle class="m" cx="1059.9" cy="484.5" r="5.8"/><circle class="m" cx="1072.2" cy="498.7" r="5.8"/><circle class="m" cx="1076.4" cy="500.8" r="5.8"/><circle class="m" cx="1087.8" cy="473.2" r="5.8"/><circle class="m" cx="1087.8" cy="498" r="5.8"/><circle class="m" cx="1095.5" cy="477" r="5.8"/><circle class="m" cx="1105.7" cy="490.2" r="5.8"/><circle class="m" cx="1106.1" cy="490.2" r="5.8"/><circle class="m" cx="1106.4" cy="487.4" r="5.8"/><circle class="m" cx="1106.6" cy="487.4" r="5.8"/><circle class="m" cx="1108.5" cy="474.4" r="5.8"/><circle class="m" cx="1108.8" cy="474.4" r="5.8"/><circle class="m" cx="1128.7" cy="497.3" r="5.8"/><circle class="m" cx="1129" cy="462.6" r="5.8"/><circle class="m" cx="1145.2" cy="499.4" r="5.8"/><circle class="m" cx="1162.2" cy="490.9" r="5.8"/><circle class="m" cx="1163.6" cy="487.4" r="5.8"/><circle class="m" cx="1170.7" cy="481" r="5.8"/><circle class="m" cx="1175.4" cy="474.6" r="5.8"/><circle class="m" cx="1179.2" cy="490.9" r="5.8"/><circle class="m" cx="1182.7" cy="494.4" r="5.8"/><circle class="m" cx="1197.8" cy="488.1" r="5.8"/><circle class="m" cx="1198.6" cy="480.3" r="5.8"/><circle class="m" cx="1215.2" cy="471.8" r="5.8"/><circle class="m" cx="1220.2" cy="482.4" r="5.8"/><circle class="m" cx="1220.9" cy="490.9" r="5.8"/><circle class="m" cx="1222.7" cy="462.2" r="5.8"/><circle class="m" cx="1235.7" cy="490.9" r="5.8"/><circle class="m" cx="1244.2" cy="494.4" r="5.8"/><circle class="m" cx="1250.2" cy="467.6" r="5.8"/><circle class="m" cx="1253.4" cy="491.6" r="5.8"/><circle class="m" cx="1256.2" cy="493.7" r="5.8"/>
</svg>
</figure>
</main>
</body>
</html>
